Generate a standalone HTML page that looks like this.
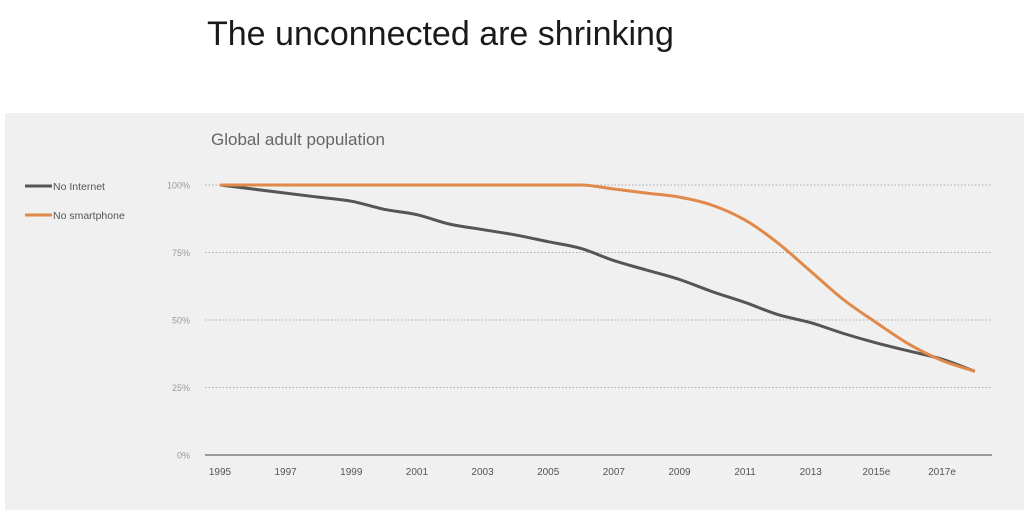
<!DOCTYPE html>
<html><head><meta charset="utf-8"><style>
body{margin:0;width:1024px;height:515px;background:#fff;font-family:"Liberation Sans",sans-serif;overflow:hidden}
svg{display:block}
</style></head><body>
<svg width="1024" height="515">
<rect x="5" y="113" width="1019" height="397" fill="#f0f0f0"/>
<text x="207" y="45" font-size="34" fill="#1a1a1a">The unconnected are shrinking</text>
<text x="211" y="145" font-size="17" fill="#666">Global adult population</text>
<g>
<line x1="25" y1="186" x2="52" y2="186" stroke="#555" stroke-width="3"/>
<text x="53" y="190" font-size="10.5" fill="#555">No Internet</text>
<line x1="25" y1="215" x2="52" y2="215" stroke="#e0894a" stroke-width="3"/>
<text x="53" y="219" font-size="10.5" fill="#555">No smartphone</text>
</g>
<g id="grid"></g><g id="axes"></g><g id="series"></g>
</svg>
<script>
const years=[1995,1996,1997,1998,1999,2000,2001,2002,2003,2004,2005,2006,2007,2008,2009,2010,2011,2012,2013,2014,2015,2016,2017,2018];
const noInternet=[100,98.5,97,95.5,94,91,89,85.5,83.5,81.5,79,76.5,72,68.5,65,60.5,56.5,52,49,45,41.5,38.5,35.5,31];
const noSmartphone=[100,100,100,100,100,100,100,100,100,100,100,100,98.5,97,95.5,92.5,87,78.5,68,57.5,49,41,35,31];
const yTicks=[0,25,50,75,100];
const xTickLabels=["1995","1997","1999","2001","2003","2005","2007","2009","2011","2013","2015e","2017e"];
const xTickYears=[1995,1997,1999,2001,2003,2005,2007,2009,2011,2013,2015,2017];
const NS="http://www.w3.org/2000/svg";
const X=y=>220+(y-1995)*32.82;
const Y=v=>455-v*2.7;
function mk(t,a,p){const e=document.createElementNS(NS,t);for(const k in a)e.setAttribute(k,a[k]);p.appendChild(e);return e;}
const grid=document.getElementById('grid'),axes=document.getElementById('axes'),ser=document.getElementById('series');
yTicks.forEach(v=>{
  if(v>0){const l=mk('line',{x1:205,x2:992,y1:Y(v),y2:Y(v),stroke:'#aaa','stroke-width':1,'stroke-dasharray':'1.5,2'},grid);
  
  }
  const t=mk('text',{x:190,y:Y(v)+3.5,'font-size':9,fill:'#999','text-anchor':'end'},axes);t.textContent=v+'%';
  
  
});
const ax=mk('line',{x1:205,x2:992,y1:455,y2:455,stroke:'#999','stroke-width':2},axes);


xTickYears.forEach((y,i)=>{const t=mk('text',{x:X(y),y:475,'font-size':10,fill:'#555','text-anchor':'middle'},axes);t.textContent=xTickLabels[i];
  
  });
function path(vals){
  const p=vals.map((v,i)=>[X(years[i]),Y(v)]);const n=p.length;
  const d=[],m=[];
  for(let i=0;i<n-1;i++)d.push((p[i+1][1]-p[i][1])/(p[i+1][0]-p[i][0]));
  m[0]=d[0];m[n-1]=d[n-2];
  for(let i=1;i<n-1;i++){m[i]=(d[i-1]*d[i]<=0)?0:(d[i-1]+d[i])/2;}
  for(let i=0;i<n-1;i++){if(d[i]===0){m[i]=0;m[i+1]=0;}}
  let s='M'+p[0];
  for(let i=0;i<n-1;i++){const h=(p[i+1][0]-p[i][0])/3;
    s+='C'+[p[i][0]+h,p[i][1]+m[i]*h]+' '+[p[i+1][0]-h,p[i+1][1]-m[i+1]*h]+' '+p[i+1];}
  return s;}
const a=mk('path',{d:path(noInternet),fill:'none',stroke:'#555','stroke-width':3},ser);


const b=mk('path',{d:path(noSmartphone),fill:'none',stroke:'#e0894a','stroke-width':3},ser);


</script>
</body></html>
